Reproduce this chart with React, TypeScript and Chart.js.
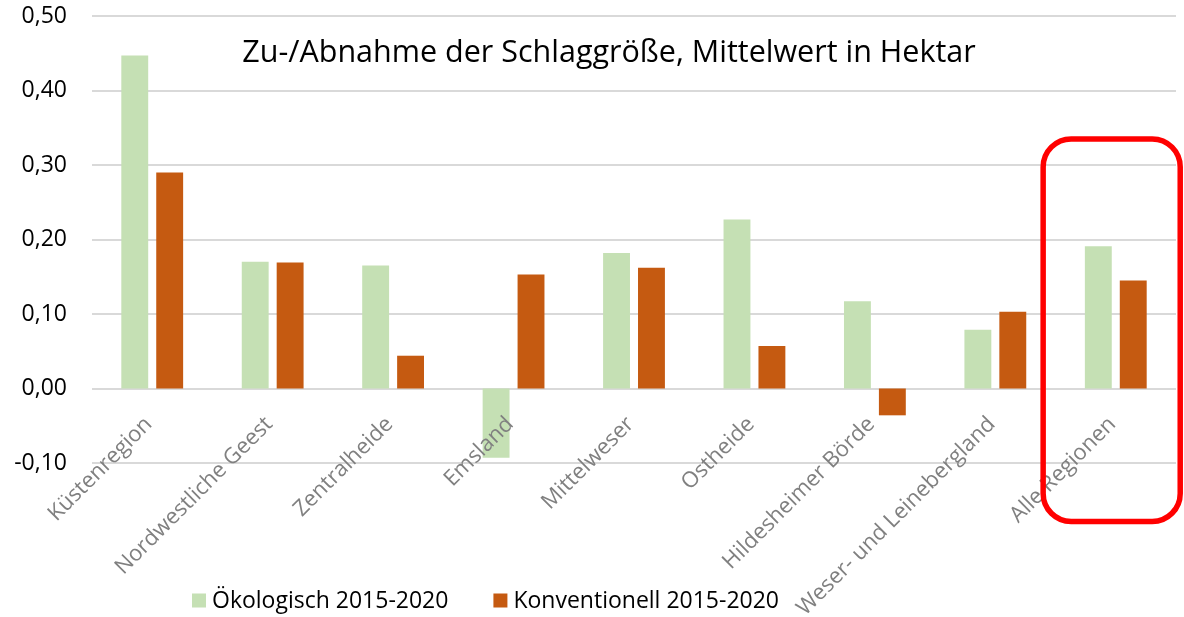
import React, { useEffect, useRef } from "react";
import { Chart, registerables } from "chart.js";

Chart.register(...registerables);

const categories = [
  "Küstenregion",
  "Nordwestliche Geest",
  "Zentralheide",
  "Emsland",
  "Mittelweser",
  "Ostheide",
  "Hildesheimer Börde",
  "Weser- und Leinebergland",
  "Alle Regionen",
];
const oekologisch = [0.447, 0.17, 0.165, -0.093, 0.182, 0.227, 0.117, 0.079, 0.191];
const konventionell = [0.29, 0.169, 0.044, 0.153, 0.162, 0.057, -0.036, 0.103, 0.145];
const seriesLabels = ["Ökologisch 2015-2020", "Konventionell 2015-2020"];
const seriesColors = ["#c5e0b4", "#c55a11"];
const yMin = -0.1;
const yMax = 0.5;
const yStep = 0.1;
const chartTitle = "Zu-/Abnahme der Schlaggröße, Mittelwert in Hektar";
const highlightCategory = "Alle Regionen";
const highlightRange = [-0.1785, 0.335];

const FONT = "'Open Sans', sans-serif";

const overlayPlugin = {
  id: "overlay",
  afterDraw(chart: any) {
    const ctx = chart.ctx as CanvasRenderingContext2D;
    const xs = chart.scales.x;
    const ys = chart.scales.y;
    ctx.save();

    // title
    ctx.font = `30.5px ${FONT}`;
    ctx.fillStyle = "#000000";
    ctx.textAlign = "center";
    ctx.textBaseline = "alphabetic";
    ctx.fillText(chartTitle, 609, 62);

    // highlight rounded box
    const idx = categories.indexOf(highlightCategory);
    const cw = xs.getPixelForValue(1) - xs.getPixelForValue(0);
    const cx = xs.getPixelForValue(idx);
    const l = cx - cw * 0.603;
    const r = cx + cw * 0.535;
    const t = ys.getPixelForValue(highlightRange[1]);
    const b = ys.getPixelForValue(highlightRange[0]);
    const rad = 28;
    ctx.beginPath();
    ctx.moveTo(l + rad, t);
    ctx.lineTo(r - rad, t);
    ctx.arcTo(r, t, r, t + rad, rad);
    ctx.lineTo(r, b - rad);
    ctx.arcTo(r, b, r - rad, b, rad);
    ctx.lineTo(l + rad, b);
    ctx.arcTo(l, b, l, b - rad, rad);
    ctx.lineTo(l, t + rad);
    ctx.arcTo(l, t, l + rad, t, rad);
    ctx.closePath();
    ctx.strokeStyle = "#ff0000";
    ctx.lineWidth = 5.5;
    ctx.stroke();

    // legend
    ctx.font = `23px ${FONT}`;
    ctx.textAlign = "left";
    ctx.textBaseline = "alphabetic";
    let lx = 192;
    const boxTop = 593.5;
    const box = 14;
    chart.data.datasets.forEach((ds: any) => {
      ctx.fillStyle = ds.backgroundColor;
      ctx.fillRect(lx, boxTop, box, box);
      ctx.fillStyle = "#000000";
      ctx.fillText(ds.label, lx + 20, 608);
      const w = ctx.measureText(ds.label).width;
      lx = lx + 20 + w + 45;
    });

    ctx.restore();
  },
};

export default function App() {
  const canvasRef = useRef<HTMLCanvasElement | null>(null);

  useEffect(() => {
    if (!canvasRef.current) return;
    const chart = new Chart(canvasRef.current, {
      type: "bar",
      data: {
        labels: categories,
        datasets: [
          {
            label: seriesLabels[0],
            data: oekologisch,
            backgroundColor: seriesColors[0],
            borderWidth: 0,
          },
          {
            label: seriesLabels[1],
            data: konventionell,
            backgroundColor: seriesColors[1],
            borderWidth: 0,
          },
        ],
      },
      options: {
        responsive: false,
        animation: false,
        devicePixelRatio: 1,
        categoryPercentage: 0.58,
        barPercentage: 0.77,
        layout: { padding: { left: 0, right: 8, top: 16, bottom: 154 } },
        plugins: {
          legend: { display: false },
          title: { display: false },
          tooltip: { enabled: false },
        },
        scales: {
          x: {
            position: { y: 0 } as any,
            grid: { display: false, drawTicks: false },
            border: { display: false },
            ticks: {
              z: 1,
              autoSkip: false,
              minRotation: 45,
              maxRotation: 45,
              padding: 23,
              labelOffset: -3.5,
              color: "#808080",
              font: { family: FONT, size: 22 },
            },
            afterFit: (s: any) => {
              s.paddingLeft = 0;
              s.paddingRight = 0;
            },
          },
          y: {
            min: yMin,
            max: yMax,
            grid: { color: "#d9d9d9", lineWidth: 2, drawTicks: false },
            border: { display: false },
            ticks: {
              stepSize: yStep,
              padding: 25,
              color: "#000000",
              font: { family: FONT, size: 23 },
              callback: (v: any) => {
                const n = Math.round(Number(v) * 100) / 100;
                return (Math.abs(n) < 1e-9 ? 0 : n).toFixed(2).replace(".", ",");
              },
            },
            afterFit: (s: any) => {
              s.width = 92;
              s.paddingTop = 0;
              s.paddingBottom = 0;
            },
          },
        },
      },
      plugins: [overlayPlugin],
    });
    return () => chart.destroy();
  }, []);

  return (
    <div style={{ position: "absolute", left: 0, top: 0, width: 1184, height: 617, background: "#ffffff" }}>
      <canvas ref={canvasRef} width={1184} height={617} />
    </div>
  );
}
